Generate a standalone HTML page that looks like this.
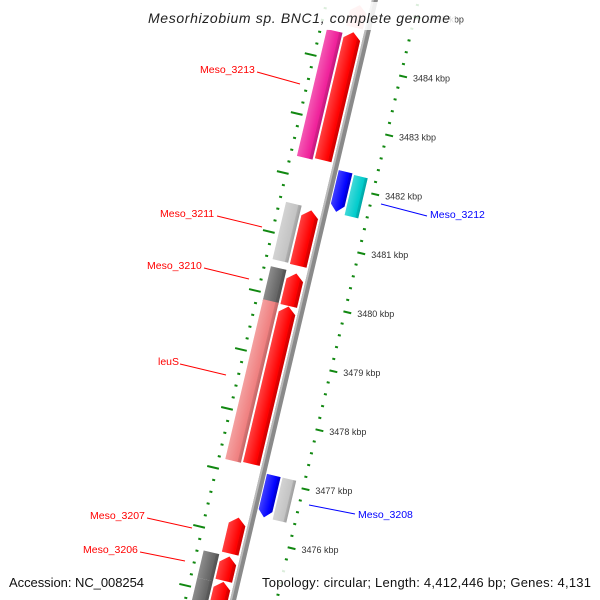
<!DOCTYPE html>
<html><head><meta charset="utf-8"><style>
html,body{margin:0;padding:0;background:#fff;overflow:hidden;width:600px;height:600px;}
svg{display:block;font-family:"Liberation Sans",sans-serif;}
</style></head><body>
<svg id="map" width="600" height="600" viewBox="0 0 600 600" xmlns="http://www.w3.org/2000/svg" overflow="hidden">
<defs>
<linearGradient id="shade" x1="0" x2="1" y1="0" y2="0">
<stop offset="0" stop-color="#fff" stop-opacity="0.25"/><stop offset="0.75" stop-color="#fff" stop-opacity="0"/><stop offset="0.8" stop-color="#000" stop-opacity="0.1"/><stop offset="1" stop-color="#000" stop-opacity="0.2"/>
</linearGradient>
<clipPath id="clip"><rect x="0" y="0" width="600" height="600"/></clipPath>
</defs>
<g clip-path="url(#clip)">
<g id="frame" transform="translate(304,300) rotate(13.3)">
<g id="ticks"></g>
<rect x="-3" y="-330" width="6" height="660" fill="#8a8a8a"/>
<rect x="-3" y="-330" width="2" height="660" fill="#bbb"/>
<g id="genes"></g>
</g>
</g>
<g id="kbp" font-size="9" fill="#333"></g>
<g font-size="10.5">
<line x1="257" y1="72" x2="300" y2="84" stroke="red"/>
<text x="200" y="73" fill="red">Meso_3213</text>
<line x1="217" y1="216" x2="262" y2="227" stroke="red"/>
<text x="160" y="217" fill="red">Meso_3211</text>
<line x1="204" y1="268" x2="249" y2="279" stroke="red"/>
<text x="147" y="269" fill="red">Meso_3210</text>
<line x1="180" y1="364" x2="226" y2="375" stroke="red"/>
<text x="158" y="365" fill="red">leuS</text>
<line x1="147" y1="518" x2="192" y2="528" stroke="red"/>
<text x="90" y="519" fill="red">Meso_3207</text>
<line x1="140" y1="552" x2="185" y2="561" stroke="red"/>
<text x="83" y="553" fill="red">Meso_3206</text>
<line x1="381" y1="204" x2="427" y2="216" stroke="blue"/>
<text x="430" y="218" fill="blue">Meso_3212</text>
<line x1="309" y1="505" x2="355" y2="514" stroke="blue"/>
<text x="358" y="518" fill="blue">Meso_3208</text>
</g>
<rect x="143" y="2" width="312" height="28" fill="#fff" opacity="0.85"/>
<text x="148" y="23" font-size="14" font-style="italic" fill="#222" textLength="302" lengthAdjust="spacing">Mesorhizobium sp. BNC1, complete genome</text>
<rect x="5" y="570" width="142" height="22" fill="#fff" opacity="0.85"/>
<text x="9" y="587" font-size="13" fill="#111" textLength="135" lengthAdjust="spacing">Accession: NC_008254</text>
<rect x="258" y="570" width="338" height="22" fill="#fff" opacity="0.85"/>
<text x="262" y="587" font-size="13" fill="#111" textLength="329" lengthAdjust="spacing">Topology: circular; Length: 4,412,446 bp; Genes: 4,131</text>
</svg>
<script>
const geneNames=["faded","Meso_3213","Meso_3213b","Meso_3212a","Meso_3212","Meso_3211","Meso_3211b","Meso_3210","Meso_3210b","leuS","leuS_b","Meso_3208a","Meso_3208","Meso_3207","Meso_3206a","Meso_3206b","Meso_3205a","Meso_3205b"];
const geneStarts=[3484.60,3482.32,3482.35,3481.57,3481.55,3480.57,3480.56,3479.86,3479.88,3477.18,3477.20,3476.39,3476.39,3475.68,3475.22,3474.70,3475.17,3474.70];
const geneEnds=[3484.98,3484.47,3484.52,3482.25,3482.23,3481.54,3481.50,3480.45,3480.43,3479.89,3479.87,3477.10,3477.10,3476.29,3475.63,3475.20,3475.63,3475.17];
const geneRings=["in","out","in","rin","rout","out","in","out","in","out","in","rin","rout","in","in","in","out","out"];
const geneShapes=["up","box","up","down","box","box","up","box","up","box","up","down","box","up","up","up","box","box"];
const geneColors=["#ff0000","#f0209a","#ff0000","#0000ff","#00cccc","#c4c4c4","#ff0000","#666666","#ff0000","#f08080","#ff0000","#0000ff","#c4c4c4","#ff0000","#ff0000","#ff0000","#666666","#666666"];
const kbpTicks=[3476,3477,3478,3479,3480,3481,3482,3483,3484,3485];
const NS="http://www.w3.org/2000/svg";
const TH=13.3*Math.PI/180, C=Math.cos(TH), S=Math.sin(TH);
function vOf(k){return 2+(3480-k)*60.6;}
const ringU={in:[-22,-5],out:[-40,-24],rin:[4,18],rout:[20,34]};
const gG=document.getElementById('genes');
for(let i=0;i<geneNames.length;i++){
  const [u0,u1]=ringU[geneRings[i]];
  const vt=vOf(geneEnds[i]), vb=Math.min(vOf(geneStarts[i]),330);
  const um=(u0+u1)/2, h=7;
  let pts;
  if(geneShapes[i]==="up") pts=[[u0,vb],[u0,vt+h],[um,vt],[u1,vt+h],[u1,vb]];
  else if(geneShapes[i]==="down") pts=[[u0,vt],[u1,vt],[u1,vb-h],[um,vb],[u0,vb-h]];
  else pts=[[u0,vt],[u1,vt],[u1,vb],[u0,vb]];
  const g=document.createElementNS(NS,'g');
  
  
  if(i===0) g.setAttribute('opacity','0.35');
  const p=document.createElementNS(NS,'polygon');
  
  
  p.setAttribute('points',pts.map(q=>q.join(',')).join(' '));
  p.setAttribute('fill',geneColors[i]);
  g.appendChild(p);
  const p2=document.createElementNS(NS,'polygon');
  
  
  p2.setAttribute('points',pts.map(q=>q.join(',')).join(' '));
  p2.setAttribute('fill','url(#shade)');
  g.appendChild(p2);
  gG.appendChild(g);
}
const tG=document.getElementById('ticks');
for(let k=3474.6;k<=3485.4;k+=0.2){
  const kk=Math.round(k*10)/10;
  const major=Math.abs(kk-Math.round(kk))<0.01;
  const v=vOf(kk);
  [[-56,-44,-48,-45],[41,49,41,44]].forEach(function(r){
    const t=document.createElementNS(NS,'rect');
    
    
    const a=major?r[0]:r[2], b=major?r[1]:r[3];
    t.setAttribute('x',a);t.setAttribute('y',v-1);
    t.setAttribute('width',b-a);t.setAttribute('height',2);
    t.setAttribute('fill','#118811');
    tG.appendChild(t);
  });
}
const kG=document.getElementById('kbp');
kbpTicks.forEach(function(k){
  const v=vOf(k), u=49;
  const x=304+u*C-v*S, y=300+u*S+v*C;
  const t=document.createElementNS(NS,'text');
  
  
  t.setAttribute('x',(x+6).toFixed(1));
  t.setAttribute('y',(y+4).toFixed(1));
  t.textContent=k+' kbp';
  kG.appendChild(t);
});
</script>
</body></html>
